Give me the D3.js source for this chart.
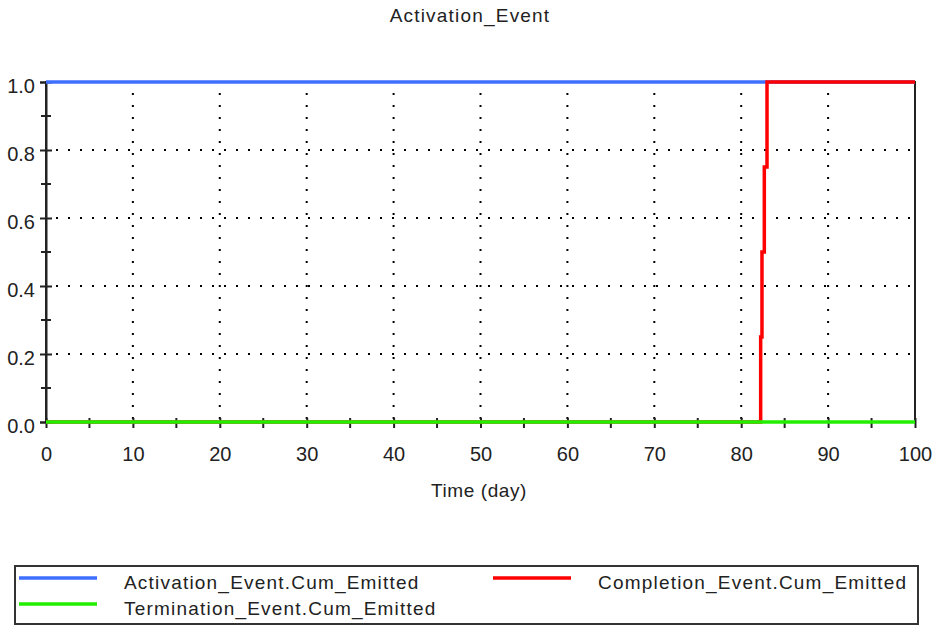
<!DOCTYPE html>
<html><head><meta charset="utf-8">
<script src="https://cdn.jsdelivr.net/npm/d3@7"></script>
<style>body{margin:0;background:#fff;} svg{display:block;font-family:"Liberation Sans",Arial,sans-serif;}</style>
</head><body>
<script>
const title = "Activation_Event";
const xLabel = "Time (day)";
const xTicks = [0,10,20,30,40,50,60,70,80,90,100];
const yTicks = [0,0.2,0.4,0.6,0.8,1.0];
const activationTime = [0, 100];
const activationVal = [1, 1];
const completionTime = [0, 82.24, 82.39, 82.66, 82.97, 100];
const completionVal = [0, 0.25, 0.5, 0.75, 1.0, 1.0];
const terminationTime = [0, 100];
const terminationVal = [0, 0];
const seriesNames = ["Activation_Event.Cum_Emitted","Completion_Event.Cum_Emitted","Termination_Event.Cum_Emitted"];
const seriesColors = ["#3f6fff","#ff0000","#22ee00"];

const W=936,H=625;
const txt="#222";
const svg=d3.select("body").append("svg").attr("width",W).attr("height",H);
const x=d3.scaleLinear().domain([0,100]).range([46,915]);
const y=d3.scaleLinear().domain([0,1]).range([422,82]);

// grid
const g=svg.append("g");
xTicks.filter(t=>t>0&&t<100).forEach(t=>{
  g.append("line").attr("x1",x(t)).attr("x2",x(t)).attr("y1",y(1)).attr("y2",y(0))
   .attr("stroke","#000").attr("stroke-width",2).attr("stroke-dasharray","2,10").attr("stroke-dashoffset",-11);
});
yTicks.filter(t=>t>0&&t<1).forEach(t=>{
  g.append("line").attr("x1",x(0)).attr("x2",x(100)).attr("y1",y(t)).attr("y2",y(t))
   .attr("stroke","#000").attr("stroke-width",2).attr("stroke-dasharray","2,10").attr("stroke-dashoffset",-10);
});

// frame
svg.append("rect").attr("x",x(0)).attr("y",y(1)).attr("width",x(100)-x(0)).attr("height",y(0)-y(1))
  .attr("fill","none").attr("stroke","#222").attr("stroke-width",2);

// axes
const yAxis=d3.axisLeft(y).tickValues(yTicks).tickFormat(d3.format(".1f")).tickSize(6).tickPadding(5);
const ya=svg.append("g").attr("transform",`translate(${x(0)},0)`).call(yAxis);
ya.select(".domain").attr("stroke","#222").attr("stroke-width",2);
ya.selectAll(".tick line").attr("stroke","#222").attr("stroke-width",2).attr("x2",6).attr("x1",-6);
ya.selectAll("text").attr("font-size",20).attr("fill",txt).attr("dy","0.5em").attr("font-family","Liberation Sans, Arial, sans-serif");
const yMinor=d3.range(1,10,2).map(d=>d/10);
yMinor.forEach(t=>{
  svg.append("line").attr("x1",x(0)-5).attr("x2",x(0)+5).attr("y1",y(t)).attr("y2",y(t)).attr("stroke","#222").attr("stroke-width",2);
});

const xAxis=d3.axisBottom(x).tickValues(xTicks).tickFormat(d3.format("d")).tickSize(5);
const xa=svg.append("g").attr("transform",`translate(0,${y(0)})`).call(xAxis);
xa.select(".domain").remove();
xa.selectAll(".tick line").attr("stroke","#222").attr("stroke-width",2).attr("y1",-4).attr("y2",6);
xa.selectAll("text").attr("font-size",20).attr("fill",txt).attr("y",39).attr("dy",0).attr("font-family","Liberation Sans, Arial, sans-serif");
d3.range(5,100,10).forEach(t=>{
  svg.append("line").attr("x1",x(t)).attr("x2",x(t)).attr("y1",y(0)-4).attr("y2",y(0)+6).attr("stroke","#222").attr("stroke-width",2);
});

// lines
const line=d3.line().x(d=>x(d[0])).y(d=>y(d[1])).curve(d3.curveStepAfter);
const data=[
  d3.zip(activationTime,activationVal),
  d3.zip(completionTime,completionVal),
  d3.zip(terminationTime,terminationVal)
];
[0,1,2].forEach(i=>{
  svg.append("path").datum(data[i]).attr("d",line).attr("fill","none")
    .attr("stroke",seriesColors[i]).attr("stroke-width",3.5);
});

// title
svg.append("text").attr("x",470).attr("y",22).attr("text-anchor","middle").attr("font-size",19).attr("letter-spacing",1.2).attr("fill",txt).text(title);
svg.append("text").attr("x",479).attr("y",497).attr("text-anchor","middle").attr("font-size",19).attr("letter-spacing",0.6).attr("fill",txt).text(xLabel);

// legend
svg.append("rect").attr("x",15).attr("y",566).attr("width",903).attr("height",58).attr("fill","none").attr("stroke","#333").attr("stroke-width",2);
const legPos=[[19,578],[493,578],[19,604]];
[0,1,2].forEach(i=>{
  const [lx,ly]=legPos[i];
  svg.append("line").attr("x1",lx).attr("x2",lx+78).attr("y1",ly).attr("y2",ly).attr("stroke",seriesColors[i]).attr("stroke-width",3.5);
  svg.append("text").attr("x",lx+105).attr("y",ly+11).attr("font-size",19).attr("letter-spacing",1.2).attr("fill",txt).text(seriesNames[i]);
});
</script>
</body></html>
